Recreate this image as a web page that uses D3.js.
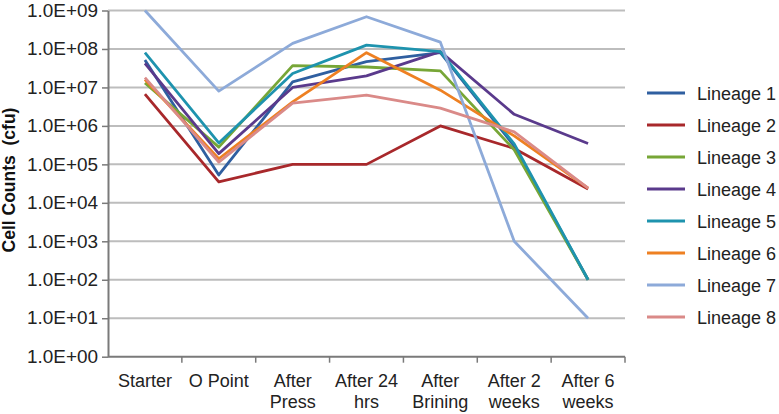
<!DOCTYPE html>
<html><head><meta charset="utf-8">
<script src="https://cdn.jsdelivr.net/npm/d3@7"></script>
<style>
body{margin:0;background:#fff;}
text{font-family:"Liberation Sans",Arial,sans-serif;}
</style></head>
<body><svg id="c" width="779" height="414"></svg>
<script>
const categories = [["Starter"],["O Point"],["After","Press"],["After 24","hrs"],["After","Brining"],["After 2","weeks"],["After 6","weeks"]];
const seriesNames = ["Lineage 1","Lineage 2","Lineage 3","Lineage 4","Lineage 5","Lineage 6","Lineage 7","Lineage 8"];
const lineage1 = [5.2e7, 5.3e4, 1.4e7, 4.7e7, 8.0e7, 3.0e5, 1e2];
const lineage2 = [6.7e6, 3.5e4, 1.0e5, 1.0e5, 1.0e6, 2.6e5, 2.3e4];
const lineage3 = [1.3e7, 2.8e5, 3.7e7, 3.4e7, 2.7e7, 2.4e5, 1e2];
const lineage4 = [4.2e7, 1.9e5, 1.0e7, 2.0e7, 8.5e7, 2.0e6, 3.5e5];
const lineage5 = [8.0e7, 3.6e5, 2.3e7, 1.26e8, 8.5e7, 3.4e5, 1e2];
const lineage6 = [1.6e7, 1.4e5, 4.2e6, 8.0e7, 8.5e6, 5.5e5, 2.4e4];
const lineage7 = [1.0e9, 8.0e6, 1.4e8, 6.9e8, 1.5e8, 1e3, 1e1];
const lineage8 = [1.8e7, 1.15e5, 3.9e6, 6.3e6, 2.9e6, 7.0e5, 2.4e4];
const yTicks = [1e0,1e1,1e2,1e3,1e4,1e5,1e6,1e7,1e8,1e9];
const colors = ["#2F5FA0","#A8282B","#77A637","#5A3A8C","#1E93AE","#EE8022","#8DAAD9","#DA8A88"];
const allSeries = [lineage1,lineage2,lineage3,lineage4,lineage5,lineage6,lineage7,lineage8];

(function(){
const svg = d3.select("#c");
const pL = 108, pR = 625, pT = 10.5, pB = 356.7;
const x = d3.scaleBand().domain(d3.range(categories.length)).range([pL,pR]).padding(0);
const y = d3.scaleLog().domain([1,1e9]).range([pB,pT]);

svg.append("g").selectAll("line").data(yTicks.filter(d=>d>1)).join("line")
  .attr("x1",pL).attr("x2",pR).attr("y1",d=>y(d)).attr("y2",d=>y(d))
  .attr("stroke","#BDBDBD").attr("stroke-width",2);

const fmt = d => { const e = Math.round(Math.log10(d)); return "1.0E+" + String(e).padStart(2,"0"); };
const yAxis = svg.append("g").attr("transform",`translate(${pL},0)`)
  .call(d3.axisLeft(y).tickValues(yTicks).tickFormat(fmt).tickSize(6).tickSizeOuter(0).tickPadding(4));
yAxis.select(".domain").attr("stroke","#7a7a7a").attr("stroke-width",2);
yAxis.selectAll(".tick line").attr("stroke","#7a7a7a").attr("stroke-width",1.5);
yAxis.selectAll("text").attr("font-size",18).attr("fill","#222").attr("font-family","Liberation Sans, Arial, sans-serif")
  .attr("textLength",71).attr("lengthAdjust","spacingAndGlyphs");

const xAxisG = svg.append("g").attr("transform",`translate(0,${pB})`);
xAxisG.append("line").attr("x1",pL).attr("x2",pR).attr("stroke","#7a7a7a").attr("stroke-width",2);
const bounds = d3.range(1,categories.length+1).map(i => pL + i*x.bandwidth());
xAxisG.selectAll(".xt").data(bounds).join("line").attr("class","xt")
  .attr("x1",d=>d).attr("x2",d=>d).attr("y1",0).attr("y2",6).attr("stroke","#7a7a7a").attr("stroke-width",1.5);
const lab = xAxisG.selectAll(".xl").data(categories).join("text").attr("class","xl")
  .attr("x",(d,i)=>x(i)+x.bandwidth()/2).attr("y",30)
  .attr("text-anchor","middle").attr("font-size",18).attr("fill","#222");
lab.each(function(d){
  const t = d3.select(this);
  d.forEach((s,k)=>t.append("tspan").attr("x",t.attr("x")).attr("dy",k===0?0:21).text(s));
});

const line = d3.line().x((d,i)=>x(i)+x.bandwidth()/2).y(d=>y(d));
svg.append("g").selectAll("path").data(allSeries).join("path")
  .attr("d",line).attr("fill","none").attr("stroke",(d,i)=>colors[i])
  .attr("stroke-width",2.8).attr("stroke-linejoin","round");

svg.append("text").attr("transform","translate(15,180) rotate(-90)")
  .attr("text-anchor","middle").attr("font-size",17.5).attr("font-weight","bold").attr("fill","#111")
  .attr("xml:space","preserve").text("Cell Counts  (cfu)");

const lg = svg.append("g").selectAll("g").data(seriesNames).join("g")
  .attr("transform",(d,i)=>`translate(647,${93+i*32})`);
lg.append("line").attr("x1",0).attr("x2",38).attr("y1",0).attr("y2",0)
  .attr("stroke",(d,i)=>colors[i]).attr("stroke-width",3);
lg.append("text").attr("x",50).attr("y",6.5).attr("font-size",18).attr("fill","#222").text(d=>d);
})();
</script></body></html>
